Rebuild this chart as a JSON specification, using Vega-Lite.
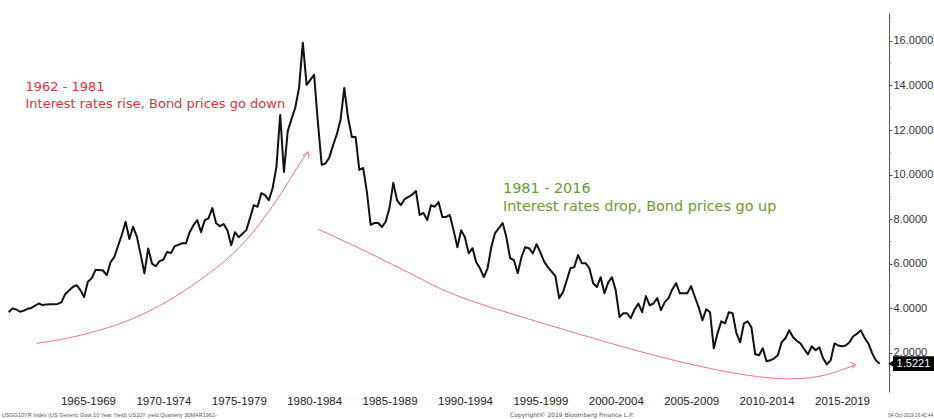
{
  "$schema": "https://vega.github.io/schema/vega-lite/v6.json",
  "width": 889,
  "height": 379,
  "autosize": "none",
  "padding": {"left": 0, "top": 13, "right": 45, "bottom": 27},
  "background": "white",
  "config": {"view": {"stroke": null}, "font": "DejaVu Sans"},
  "datasets": {
    "q": [
      {"date":"1962-03-31","v":3.83},{"date":"1962-06-30","v":4.00},{"date":"1962-09-30","v":3.95},{"date":"1962-12-31","v":3.85},
      {"date":"1963-03-31","v":3.90},{"date":"1963-06-30","v":3.98},{"date":"1963-09-30","v":4.02},{"date":"1963-12-31","v":4.12},
      {"date":"1964-03-31","v":4.22},{"date":"1964-06-30","v":4.15},{"date":"1964-09-30","v":4.18},{"date":"1964-12-31","v":4.19},
      {"date":"1965-03-31","v":4.19},{"date":"1965-06-30","v":4.20},{"date":"1965-09-30","v":4.28},{"date":"1965-12-31","v":4.65},
      {"date":"1966-03-31","v":4.80},{"date":"1966-06-30","v":4.96},{"date":"1966-09-30","v":5.04},{"date":"1966-12-31","v":4.82},
      {"date":"1967-03-31","v":4.51},{"date":"1967-06-30","v":5.20},{"date":"1967-09-30","v":5.35},{"date":"1967-12-31","v":5.72},
      {"date":"1968-03-31","v":5.72},{"date":"1968-06-30","v":5.70},{"date":"1968-09-30","v":5.49},{"date":"1968-12-31","v":6.08},
      {"date":"1969-03-31","v":6.30},{"date":"1969-06-30","v":6.80},{"date":"1969-09-30","v":7.30},{"date":"1969-12-31","v":7.88},
      {"date":"1970-03-31","v":7.11},{"date":"1970-06-30","v":7.66},{"date":"1970-09-30","v":7.21},{"date":"1970-12-31","v":6.40},
      {"date":"1971-03-31","v":5.57},{"date":"1971-06-30","v":6.69},{"date":"1971-09-30","v":6.01},{"date":"1971-12-31","v":5.89},
      {"date":"1972-03-31","v":6.12},{"date":"1972-06-30","v":6.18},{"date":"1972-09-30","v":6.53},{"date":"1972-12-31","v":6.48},
      {"date":"1973-03-31","v":6.79},{"date":"1973-06-30","v":6.85},{"date":"1973-09-30","v":6.92},{"date":"1973-12-31","v":6.92},
      {"date":"1974-03-31","v":7.42},{"date":"1974-06-30","v":7.73},{"date":"1974-09-30","v":7.96},{"date":"1974-12-31","v":7.42},
      {"date":"1975-03-31","v":7.96},{"date":"1975-06-30","v":8.04},{"date":"1975-09-30","v":8.50},{"date":"1975-12-31","v":7.82},
      {"date":"1976-03-31","v":7.69},{"date":"1976-06-30","v":7.78},{"date":"1976-09-30","v":7.50},{"date":"1976-12-31","v":6.83},
      {"date":"1977-03-31","v":7.42},{"date":"1977-06-30","v":7.19},{"date":"1977-09-30","v":7.35},{"date":"1977-12-31","v":7.51},
      {"date":"1978-03-31","v":8.05},{"date":"1978-06-30","v":8.63},{"date":"1978-09-30","v":8.56},{"date":"1978-12-31","v":9.17},
      {"date":"1979-03-31","v":9.08},{"date":"1979-06-30","v":8.85},{"date":"1979-09-30","v":9.40},{"date":"1979-12-31","v":10.35},
      {"date":"1980-03-31","v":12.68},{"date":"1980-06-30","v":10.12},{"date":"1980-09-30","v":11.95},{"date":"1980-12-31","v":12.50},
      {"date":"1981-03-31","v":13.00},{"date":"1981-06-30","v":13.89},{"date":"1981-09-30","v":15.92},{"date":"1981-12-31","v":14.03},
      {"date":"1982-03-31","v":14.25},{"date":"1982-06-30","v":14.48},{"date":"1982-09-30","v":12.35},{"date":"1982-12-31","v":10.44},
      {"date":"1983-03-31","v":10.50},{"date":"1983-06-30","v":10.75},{"date":"1983-09-30","v":11.30},{"date":"1983-12-31","v":11.80},
      {"date":"1984-03-31","v":12.45},{"date":"1984-06-30","v":13.89},{"date":"1984-09-30","v":12.55},{"date":"1984-12-31","v":11.69},
      {"date":"1985-03-31","v":11.69},{"date":"1985-06-30","v":10.21},{"date":"1985-09-30","v":10.30},{"date":"1985-12-31","v":9.20},
      {"date":"1986-03-31","v":7.75},{"date":"1986-06-30","v":7.83},{"date":"1986-09-30","v":7.83},{"date":"1986-12-31","v":7.65},
      {"date":"1987-03-31","v":7.90},{"date":"1987-06-30","v":8.50},{"date":"1987-09-30","v":9.63},{"date":"1987-12-31","v":8.85},
      {"date":"1988-03-31","v":8.63},{"date":"1988-06-30","v":8.90},{"date":"1988-09-30","v":9.00},{"date":"1988-12-31","v":9.10},
      {"date":"1989-03-31","v":9.27},{"date":"1989-06-30","v":8.19},{"date":"1989-09-30","v":8.28},{"date":"1989-12-31","v":7.96},
      {"date":"1990-03-31","v":8.63},{"date":"1990-06-30","v":8.56},{"date":"1990-09-30","v":8.77},{"date":"1990-12-31","v":8.10},
      {"date":"1991-03-31","v":8.10},{"date":"1991-06-30","v":8.19},{"date":"1991-09-30","v":7.50},{"date":"1991-12-31","v":6.74},
      {"date":"1992-03-31","v":7.51},{"date":"1992-06-30","v":7.19},{"date":"1992-09-30","v":6.47},{"date":"1992-12-31","v":6.70},
      {"date":"1993-03-31","v":6.07},{"date":"1993-06-30","v":5.80},{"date":"1993-09-30","v":5.40},{"date":"1993-12-31","v":5.80},
      {"date":"1994-03-31","v":6.75},{"date":"1994-06-30","v":7.38},{"date":"1994-09-30","v":7.60},{"date":"1994-12-31","v":7.83},
      {"date":"1995-03-31","v":7.20},{"date":"1995-06-30","v":6.25},{"date":"1995-09-30","v":6.16},{"date":"1995-12-31","v":5.58},
      {"date":"1996-03-31","v":6.30},{"date":"1996-06-30","v":6.75},{"date":"1996-09-30","v":6.70},{"date":"1996-12-31","v":6.47},
      {"date":"1997-03-31","v":6.88},{"date":"1997-06-30","v":6.52},{"date":"1997-09-30","v":6.10},{"date":"1997-12-31","v":5.85},
      {"date":"1998-03-31","v":5.65},{"date":"1998-06-30","v":5.45},{"date":"1998-09-30","v":4.46},{"date":"1998-12-31","v":4.73},
      {"date":"1999-03-31","v":5.25},{"date":"1999-06-30","v":5.80},{"date":"1999-09-30","v":5.85},{"date":"1999-12-31","v":6.39},
      {"date":"2000-03-31","v":6.03},{"date":"2000-06-30","v":6.03},{"date":"2000-09-30","v":5.80},{"date":"2000-12-31","v":5.13},
      {"date":"2001-03-31","v":4.96},{"date":"2001-06-30","v":5.40},{"date":"2001-09-30","v":4.68},{"date":"2001-12-31","v":5.17},
      {"date":"2002-03-31","v":5.40},{"date":"2002-06-30","v":4.82},{"date":"2002-09-30","v":3.61},{"date":"2002-12-31","v":3.78},
      {"date":"2003-03-31","v":3.78},{"date":"2003-06-30","v":3.56},{"date":"2003-09-30","v":3.95},{"date":"2003-12-31","v":4.22},
      {"date":"2004-03-31","v":3.83},{"date":"2004-06-30","v":4.55},{"date":"2004-09-30","v":4.14},{"date":"2004-12-31","v":4.22},
      {"date":"2005-03-31","v":4.46},{"date":"2005-06-30","v":3.92},{"date":"2005-09-30","v":4.28},{"date":"2005-12-31","v":4.46},
      {"date":"2006-03-31","v":4.85},{"date":"2006-06-30","v":5.13},{"date":"2006-09-30","v":4.68},{"date":"2006-12-31","v":4.68},
      {"date":"2007-03-31","v":4.68},{"date":"2007-06-30","v":5.00},{"date":"2007-09-30","v":4.51},{"date":"2007-12-31","v":4.05},
      {"date":"2008-03-31","v":3.47},{"date":"2008-06-30","v":3.96},{"date":"2008-09-30","v":3.83},{"date":"2008-12-31","v":2.21},
      {"date":"2009-03-31","v":2.88},{"date":"2009-06-30","v":3.42},{"date":"2009-09-30","v":3.33},{"date":"2009-12-31","v":3.83},
      {"date":"2010-03-31","v":3.78},{"date":"2010-06-30","v":2.90},{"date":"2010-09-30","v":2.48},{"date":"2010-12-31","v":3.33},
      {"date":"2011-03-31","v":3.42},{"date":"2011-06-30","v":3.15},{"date":"2011-09-30","v":1.94},{"date":"2011-12-31","v":1.90},
      {"date":"2012-03-31","v":2.21},{"date":"2012-06-30","v":1.63},{"date":"2012-09-30","v":1.67},{"date":"2012-12-31","v":1.76},
      {"date":"2013-03-31","v":1.90},{"date":"2013-06-30","v":2.48},{"date":"2013-09-30","v":2.66},{"date":"2013-12-31","v":3.02},
      {"date":"2014-03-31","v":2.72},{"date":"2014-06-30","v":2.55},{"date":"2014-09-30","v":2.43},{"date":"2014-12-31","v":2.17},
      {"date":"2015-03-31","v":1.94},{"date":"2015-06-30","v":2.30},{"date":"2015-09-30","v":2.12},{"date":"2015-12-31","v":2.25},
      {"date":"2016-03-31","v":1.76},{"date":"2016-06-30","v":1.49},{"date":"2016-09-30","v":1.67},{"date":"2016-12-31","v":2.43},
      {"date":"2017-03-31","v":2.34},{"date":"2017-06-30","v":2.30},{"date":"2017-09-30","v":2.34},{"date":"2017-12-31","v":2.48},
      {"date":"2018-03-31","v":2.75},{"date":"2018-06-30","v":2.86},{"date":"2018-09-30","v":3.02},{"date":"2018-12-31","v":2.68},
      {"date":"2019-03-31","v":2.43},{"date":"2019-06-30","v":2.00},{"date":"2019-09-30","v":1.67},{"date":"2019-12-31","v":1.5221}
    ],
    "curves": [
      {"g":"rise","o":1,"date":"1964-02-06","v":2.43},
      {"g":"rise","o":2,"date":"1966-02-03","v":2.66},
      {"g":"rise","o":3,"date":"1968-04-20","v":3.03},
      {"g":"rise","o":4,"date":"1970-07-02","v":3.55},
      {"g":"rise","o":5,"date":"1972-09-20","v":4.30},
      {"g":"rise","o":6,"date":"1974-12-05","v":5.27},
      {"g":"rise","o":7,"date":"1977-02-21","v":6.47},
      {"g":"rise","o":8,"date":"1978-11-28","v":7.82},
      {"g":"rise","o":9,"date":"1980-06-14","v":9.31},
      {"g":"rise","o":10,"date":"1981-07-24","v":10.51},
      {"g":"rise","o":11,"date":"1982-02-10","v":11.03},
      {"g":"drop","o":1,"date":"1982-10-08","v":7.55},
      {"g":"drop","o":2,"date":"1985-12-24","v":6.54},
      {"g":"drop","o":3,"date":"1989-04-20","v":5.42},
      {"g":"drop","o":4,"date":"1992-03-03","v":4.52},
      {"g":"drop","o":5,"date":"1996-08-04","v":3.55},
      {"g":"drop","o":6,"date":"2001-01-05","v":2.66},
      {"g":"drop","o":7,"date":"2005-06-06","v":1.83},
      {"g":"drop","o":8,"date":"2009-11-07","v":1.16},
      {"g":"drop","o":9,"date":"2013-03-03","v":0.86},
      {"g":"drop","o":10,"date":"2015-05-19","v":0.89},
      {"g":"drop","o":11,"date":"2016-12-01","v":1.11},
      {"g":"drop","o":12,"date":"2018-05-11","v":1.46}
    ],
    "heads": [
      {"g":"h1","o":1,"date":"1981-09-27","v":10.83},
      {"g":"h1","o":2,"date":"1982-02-10","v":11.03},
      {"g":"h1","o":3,"date":"1982-02-21","v":10.74},
      {"g":"h2","o":1,"date":"2018-01-12","v":1.58},
      {"g":"h2","o":2,"date":"2018-06-02","v":1.47},
      {"g":"h2","o":3,"date":"2018-02-20","v":1.31}
    ],
    "minor": [
      {"date":"2020-08-13","date2":"2020-09-25","v":1},{"date":"2020-08-13","date2":"2020-09-25","v":3},
      {"date":"2020-08-13","date2":"2020-09-25","v":5},{"date":"2020-08-13","date2":"2020-09-25","v":7},
      {"date":"2020-08-13","date2":"2020-09-25","v":9},{"date":"2020-08-13","date2":"2020-09-25","v":11},
      {"date":"2020-08-13","date2":"2020-09-25","v":13},{"date":"2020-08-13","date2":"2020-09-25","v":15},
      {"date":"2020-08-13","date2":"2020-09-25","v":17}
    ],
    "redNote": [
      {"date":"1963-05-11","v":13.75,"label":"1962 - 1981"},
      {"date":"1963-05-11","v":12.99,"label":"Interest rates rise, Bond prices go down"}
    ],
    "greenNote": [
      {"date":"1995-01-08","v":9.17,"label":"1981 - 2016"},
      {"date":"1995-01-08","v":8.37,"label":"Interest rates drop, Bond prices go up"}
    ],
    "tag": [
      {"date":"2020-11-17","date2":"2023-09-01","v":1.19,"v2":1.85,"ptr":"2020-10-05","mid":"2022-03-28","last":1.5221,"label":"1.5221"}
    ]
  },
  "encoding": {
    "x": {
      "field": "date", "type": "temporal",
      "scale": {"type": "utc", "domain": [{"year": 1961, "month": 9, "date": 1, "utc": true}, {"year": 2020, "month": 8, "date": 13, "utc": true}]},
      "axis": {
        "title": null, "domain": false, "ticks": false, "grid": false,
        "values": [
          {"year":1967,"month":7,"date":2,"utc":true},{"year":1972,"month":7,"date":2,"utc":true},{"year":1977,"month":7,"date":2,"utc":true},
          {"year":1982,"month":7,"date":2,"utc":true},{"year":1987,"month":7,"date":2,"utc":true},{"year":1992,"month":7,"date":2,"utc":true},
          {"year":1997,"month":7,"date":2,"utc":true},{"year":2002,"month":7,"date":2,"utc":true},{"year":2007,"month":7,"date":2,"utc":true},
          {"year":2012,"month":7,"date":2,"utc":true},{"year":2017,"month":7,"date":2,"utc":true}
        ],
        "labelExpr": "(utcyear(datum.value) - 2) + '-' + (utcyear(datum.value) + 2)",
        "labelFont": "Liberation Sans", "labelFontSize": 11.5, "labelColor": "#222",
        "labelPadding": 3, "labelAlign": "center", "labelBaseline": "top"
      }
    },
    "y": {
      "field": "v", "type": "quantitative",
      "scale": {"domain": [0.25, 17.25], "nice": false, "zero": false},
      "axis": {
        "orient": "right", "title": null, "grid": false,
        "values": [2, 4, 6, 8, 10, 12, 14, 16], "format": ".4f",
        "domainColor": "#555", "tickColor": "#555", "tickSize": 3,
        "labelFont": "Liberation Sans", "labelFontSize": 11, "labelColor": "#333", "labelPadding": 1
      }
    }
  },
  "layer": [
    {
      "data": {"name": "minor"},
      "mark": {"type": "rule", "color": "#777", "strokeWidth": 1},
      "encoding": {"x2": {"field": "date2"}}
    },
    {
      "data": {"name": "curves"},
      "mark": {"type": "line", "interpolate": "natural", "color": "#f4737e", "strokeWidth": 1},
      "encoding": {"detail": {"field": "g"}, "order": {"field": "o"}}
    },
    {
      "data": {"name": "heads"},
      "mark": {"type": "line", "color": "#f4737e", "strokeWidth": 1},
      "encoding": {"detail": {"field": "g"}, "order": {"field": "o"}}
    },
    {
      "data": {"name": "q"},
      "mark": {"type": "line", "color": "#111111", "strokeWidth": 2, "strokeJoin": "round"},
      "encoding": {}
    },
    {
      "data": {"name": "redNote"},
      "mark": {"type": "text", "align": "left", "baseline": "alphabetic", "fontSize": 13, "color": "#e8303a"},
      "encoding": {"text": {"field": "label"}}
    },
    {
      "data": {"name": "greenNote"},
      "mark": {"type": "text", "align": "left", "baseline": "alphabetic", "fontSize": 14.4, "color": "#6c9a34"},
      "encoding": {"text": {"field": "label"}}
    },
    {
      "data": {"values": [{"date":"1961-10-12","v":-0.85,"label":"USGG10YR Index (US Generic Govt 10 Year Yield) US10Y yield  Quarterly 30MAR1962-"}]},
      "mark": {"type": "text", "align": "left", "baseline": "alphabetic", "font": "Liberation Sans", "fontSize": 5.5, "color": "#555555"},
      "encoding": {"text": {"field": "label"}}
    },
    {
      "data": {"values": [{"date":"1995-06-28","v":-0.85,"label":"Copyright© 2019 Bloomberg Finance L.P."}]},
      "mark": {"type": "text", "align": "left", "baseline": "alphabetic", "fontSize": 6, "color": "#555555"},
      "encoding": {"text": {"field": "label"}}
    },
    {
      "data": {"values": [{"date":"2023-07-15","v":-0.85,"label":"04-Oct-2019 16:42:44"}]},
      "mark": {"type": "text", "align": "right", "baseline": "alphabetic", "font": "Liberation Sans", "fontSize": 4.6, "color": "#555555"},
      "encoding": {"text": {"field": "label"}}
    },
    {
      "data": {"name": "tag"},
      "mark": {"type": "rect", "color": "#000000"},
      "encoding": {"x2": {"field": "date2"}, "y2": {"field": "v2"}}
    },
    {
      "data": {"name": "tag"},
      "mark": {"type": "point", "shape": "triangle-left", "filled": true, "color": "#000000", "opacity": 1, "size": 45},
      "encoding": {
        "x": {"field": "ptr", "type": "temporal"},
        "y": {"field": "last", "type": "quantitative"}
      }
    },
    {
      "data": {"name": "tag"},
      "mark": {"type": "text", "align": "center", "baseline": "middle", "font": "Liberation Sans", "fontSize": 11, "color": "#ffffff"},
      "encoding": {
        "x": {"field": "mid", "type": "temporal"},
        "y": {"field": "last", "type": "quantitative"},
        "text": {"field": "label"}
      }
    }
  ]
}
